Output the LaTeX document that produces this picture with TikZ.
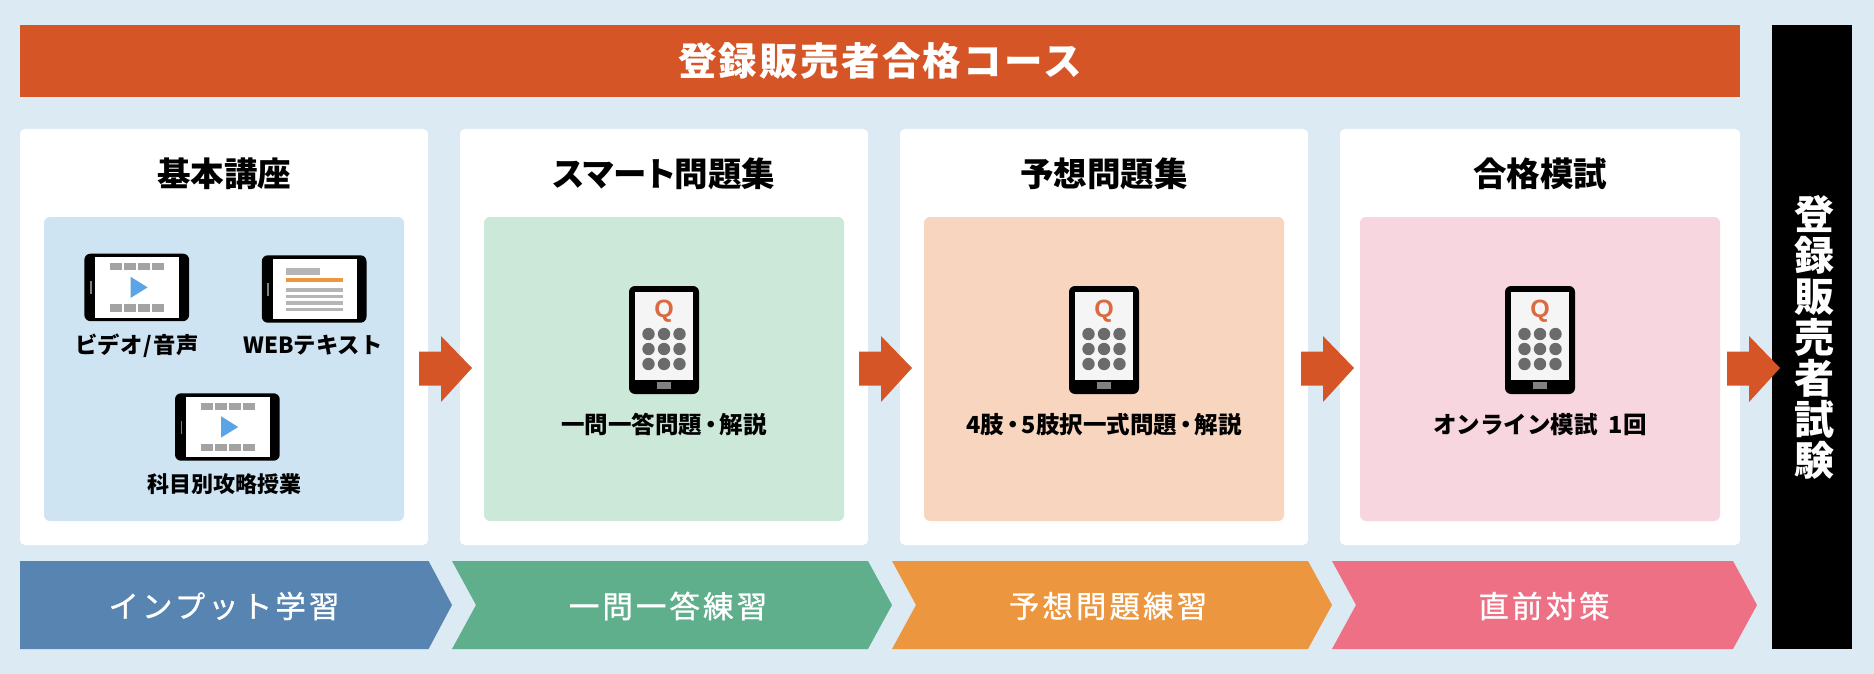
\documentclass[tikz,border=0pt]{standalone}
\usepackage{fontspec}
\setmainfont{Noto Sans CJK JP}
\newfontfamily\spacedfont[LetterSpace=10,FakeBold=1]{Noto Sans CJK JP}
\newfontfamily\headfont[LetterSpace=6]{Noto Sans CJK JP}
\newfontfamily\kanafont[RawFeature=+palt]{Noto Sans CJK JP}
\newfontfamily\qfont{Liberation Sans}
\definecolor{pagebg}{HTML}{DCEAF4}
\definecolor{accent}{HTML}{D55527}
\definecolor{blueband}{HTML}{5884B2}
\definecolor{greenband}{HTML}{5FAE8C}
\definecolor{orangeband}{HTML}{EC963F}
\definecolor{pinkband}{HTML}{EE7085}
\definecolor{blueinner}{HTML}{CFE4F2}
\definecolor{greeninner}{HTML}{CBE8D8}
\definecolor{orangeinner}{HTML}{F8D5BE}
\definecolor{pinkinner}{HTML}{F7D6E0}
\definecolor{qcolor}{HTML}{DB6A41}
\definecolor{keygray}{HTML}{6B6B6B}
\definecolor{filmgray}{HTML}{A3A3A3}
\definecolor{linegray}{HTML}{B5B5B5}
\definecolor{playblue}{HTML}{5BA4E6}
\definecolor{textorange}{HTML}{EC963F}
\newcommand{\narrowdot}{\hspace{-3pt}・\hspace{-3pt}}
\tikzset{
  box/.style={inner sep=0pt,outer sep=0pt,anchor=north west},
  cardbox/.style={box,fill=white,rounded corners=5pt,minimum width=#1,minimum height=416pt},
  innerbox/.style={box,rounded corners=6pt,minimum width=360pt,minimum height=304pt},
  cardtitle/.style={font=\fontsize{33.5}{36}\selectfont\bfseries,text=black,inner sep=0pt},
  itemlabel/.style={font=\fontsize{22}{24}\selectfont\bfseries,text=black,inner sep=0pt},
  quizlabel/.style={font=\fontsize{23.5}{26}\selectfont\bfseries,text=black,inner sep=0pt},
  bandlabel/.style={font=\fontsize{30.5}{34}\selectfont\spacedfont,text=white,inner sep=0pt},
}
% block arrow: x of tail
\newcommand{\blockarrow}[1]{\fill[accent] (#1,351.5) -- ++(22,0) -- ++(0,-15.5) -- ++(31,32) -- ++(-31,34) -- ++(0,-16.5) -- ++(-22,0) -- cycle;}
% chevron band: left x, flat width, fill
\newcommand{\chevronband}[3]{\fill[#3] (#1,561) -- ++(#2,0) -- ++(24,44) -- ++(-24,44) -- ++(-#2,0) -- ++(24,-44) -- cycle;}
% phone centred on x
\newcommand{\quizphone}[1]{%
  \begin{scope}[shift={(#1,0)}]
    \fill[black,rounded corners=6pt] (-35,286) rectangle (35,394);
    \fill[white!96!black] (-29,292) rectangle (29,380);
    \fill[gray] (-7,381.7) rectangle (7,389.3);
    \node[font=\fontsize{25}{26}\selectfont\qfont\bfseries,text=qcolor,inner sep=0pt] at (0,311) {Q};
    \foreach \dx in {-15.5,0,15.5} \foreach \dy in {334,349,364}
      \fill[keygray] (\dx,\dy) circle (6.2);
  \end{scope}}
% tablet frame at top-left
\newcommand{\tabletframe}{%
  \fill[black,rounded corners=6pt] (0,0) rectangle (104.7,67.4);
  \fill[white] (11,3.5) rectangle (95,64);
  \fill[gray] (5.6,27.3) rectangle (7.2,40.3);}
\newcommand{\videotablet}[2]{%
  \begin{scope}[shift={(#1,#2)}]
    \tabletframe
    \foreach \i in {0,1,2,3} {
      \fill[filmgray] (25.6+14*\i,9.3) rectangle ++(12,7);
      \fill[filmgray] (25.6+14*\i,50.6) rectangle ++(12,7.3);
    }
    \fill[playblue] (46.1,23) -- (63.2,33.7) -- (46.1,44.3) -- cycle;
  \end{scope}}
\begin{document}
\begin{tikzpicture}[x=1pt,y=-1pt]
\useasboundingbox (0,0) rectangle (1874,674);
\fill[pagebg] (0,0) rectangle (1874,674);
% banner
\node[box,fill=accent,minimum width=1720pt,minimum height=72pt] (banner) at (20,25) {};
\node[font=\fontsize{38.5}{40}\selectfont\headfont\bfseries,text=white,inner sep=0pt] (bannertext) at (880,61) {登録販売者合格コース};
% exam bar
\node[box,fill=black,minimum width=80pt,minimum height=624pt] (exam) at (1772,25) {};
% cards
\node[cardbox=408pt] (c1) at (20,129) {};
\node[cardbox=408pt] (c2) at (460,129) {};
\node[cardbox=408pt] (c3) at (900,129) {};
\node[cardbox=400pt] (c4) at (1340,129) {};
\node[innerbox,fill=blueinner] (i1) at (44,217) {};
\node[innerbox,fill=greeninner] (i2) at (484,217) {};
\node[innerbox,fill=orangeinner] (i3) at (924,217) {};
\node[innerbox,fill=pinkinner] (i4) at (1360,217) {};
\node[cardtitle] (t1) at (224,174) {基本講座};
\node[cardtitle,font=\fontsize{33.5}{36}\selectfont\kanafont\bfseries] (t2) at (664,174) {スマート問題集};
\node[cardtitle] (t3) at (1104,174) {予想問題集};
\node[cardtitle] (t4) at (1540,174) {合格模試};
% tablets
\videotablet{84.4}{253.7}
\begin{scope}[shift={(261.8,255.3)}]
  \tabletframe
  \fill[linegray] (24.2,13) rectangle ++(34,7);
  \fill[textorange] (24.2,23) rectangle ++(56.6,3.7);
  \foreach \y in {33,39.4,46,52.7} \fill[linegray] (24.2,\y) rectangle ++(56.6,3.3);
\end{scope}
\videotablet{175}{393.3}
\node[itemlabel,font=\fontsize{22.3}{24}\selectfont\bfseries] (l1) at (137,345.5) {ビデオ\hspace{1.5pt}/\hspace{1.5pt}音声};
\node[itemlabel,font=\fontsize{22.3}{24}\selectfont\bfseries] (l2) at (313,345.5) {WEBテキスト};
\node[itemlabel] (l3) at (224.5,484) {科目別攻略授業};
% phones
\quizphone{664}
\quizphone{1104}
\quizphone{1540}
\node[quizlabel] (l4) at (664,425) {一問一答問題\narrowdot{}解説};
\node[quizlabel] (l5) at (1104,425) {4肢\narrowdot{}5肢択一式問題\narrowdot{}解説};
\node[quizlabel] (l6) at (1540,425) {オンライン模試\hspace{11pt}1回};
% bands
\fill[blueband] (20,561) -- (428.6,561) -- (452,605) -- (428.6,649) -- (20,649) -- cycle;
\chevronband{452}{416}{greenband}
\chevronband{892}{416}{orangeband}
\chevronband{1332}{401}{pinkband}
\node[bandlabel] (b1) at (224,606) {インプット学習};
\node[bandlabel] (b2) at (668,606) {一問一答練習};
\node[bandlabel] (b3) at (1108,606) {予想問題練習};
\node[bandlabel] (b4) at (1544,606) {直前対策};
% arrows
\blockarrow{419}
\blockarrow{859}
\blockarrow{1301}
\blockarrow{1727}
% exam label
\node[font=\fontsize{40}{41}\selectfont\bfseries,text=white,inner sep=0pt,align=center] (examtext) at (1814,337) {登\\録\\販\\売\\者\\試\\験};
\end{tikzpicture}
\end{document}
